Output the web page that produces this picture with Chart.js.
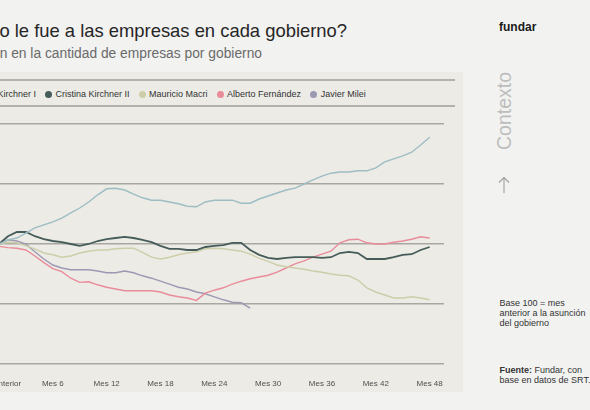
<!DOCTYPE html>
<html lang="es">
<head>
<meta charset="utf-8">
<title>¿Cómo le fue a las empresas en cada gobierno?</title>
<script src="https://cdn.jsdelivr.net/npm/chart.js@4.4.1/dist/chart.umd.min.js"></script>
<style>
  html, body { margin: 0; padding: 0; }
  body {
    width: 590px; height: 410px; overflow: hidden; position: relative;
    background: #f2f2f1; color: #222;
    font-family: "Liberation Sans", Arial, sans-serif;
  }
  .abs { position: absolute; white-space: nowrap; }
  #titulo { right: 243px; top: 20px; font-size: 18.4px; line-height: 22px; color: #262626; }
  #subtitulo { right: 328px; top: 46px; font-size: 13.8px; line-height: 16px; color: #6a6a6a; }
  #panel { left: -20px; top: 72px; width: 483px; height: 320px; background: #ecebe6; }
  #leyendaCaja { left: -20px; top: 79px; width: 475px; height: 24px;
    border-top: 2px solid #b3b1ab; border-bottom: 2px solid #b3b1ab; }
  #leyenda { top: 89px; display: flex; align-items: center; font-size: 9px; line-height: 10px; color: #333; }
  #leyenda .item { display: flex; align-items: center; margin-right: 9px; }
  #leyenda .punto { width: 7px; height: 7px; border-radius: 50%; margin-right: 3.5px; }
  #lienzo { left: -60px; top: 110px; width: 523px; height: 282px; }
  #marca { left: 499px; top: 20px; font-size: 12px; line-height: 14px; font-weight: bold; color: #1a1a1a; }
  #contexto { left: 503.5px; top: 111px; font-size: 19.5px; line-height: 20px; color: #bdbdbd;
    transform: translate(-50%, -50%) rotate(-90deg); }
  #flecha { left: 497px; top: 176px; }
  .nota { left: 499.5px; font-size: 9px; line-height: 10px; color: #333; }
  #base { top: 298px; }
  #fuente { top: 365px; }
</style>
</head>
<body>
<div class="abs" id="titulo">¿Cómo le fue a las empresas en cada gobierno?</div>
<div class="abs" id="subtitulo">Variación en la cantidad de empresas por gobierno</div>
<div class="abs" id="panel"></div>
<div class="abs" id="leyendaCaja"></div>
<div class="abs" id="leyenda"></div>
<div class="abs" id="lienzo"><canvas id="grafico" width="523" height="282"></canvas></div>

<div class="abs" id="marca">fundar</div>
<div class="abs" id="contexto">Contexto</div>
<svg class="abs" id="flecha" width="14" height="18" viewBox="0 0 14 18">
  <path d="M7 1.5 V17 M2 6.5 L7 1.5 L12 6.5" fill="none" stroke="#9e9e9e" stroke-width="1.1"/>
</svg>
<div class="abs nota" id="base">Base 100 = mes<br>anterior a la asunción<br>del gobierno</div>
<div class="abs nota" id="fuente"><b>Fuente:</b> Fundar, con<br>base en datos de SRT.</div>

<script>
// meses desde el mes anterior a la asuncion
const meses = Array.from({ length: 49 }, (_, i) => i);
const etiquetasX = ['Mes anterior', 'Mes 6', 'Mes 12', 'Mes 18', 'Mes 24', 'Mes 30', 'Mes 36', 'Mes 42', 'Mes 48'];

const gobiernos = ['Néstor Kirchner I', 'Cristina Kirchner II', 'Mauricio Macri', 'Alberto Fernández', 'Javier Milei'];
const colores = ['#9dbdc4', '#465c5a', '#cdcea9', '#e98c9a', '#9c99b3'];

const nestorK = [100, 100.7, 101.0, 101.8, 102.7, 103.2, 103.7, 104.3, 105.2, 106.0, 107.0, 108.2, 109.2,
  109.3, 109.0, 108.3, 107.7, 107.3, 107.3, 107.0, 106.7, 106.3, 106.2, 107.0, 107.3,
  107.3, 107.3, 106.8, 106.8, 107.5, 108.0, 108.5, 109.0, 109.3, 110.0, 110.7, 111.3,
  111.8, 112.0, 112.0, 112.2, 112.2, 112.7, 113.7, 114.2, 114.7, 115.3, 116.5, 117.8];
const cristinaK = [100, 101.3, 102.0, 102.0, 101.3, 100.8, 100.5, 100.3, 100.0, 99.7, 100.0, 100.5, 100.8,
  101.0, 101.2, 101.0, 100.7, 100.3, 99.7, 99.2, 99.2, 99.0, 99.0, 99.5, 99.7,
  99.8, 100.2, 100.2, 99.0, 98.2, 97.7, 97.5, 97.7, 97.8, 97.8, 97.8, 97.7,
  97.8, 98.5, 98.7, 98.5, 97.5, 97.5, 97.5, 97.8, 98.2, 98.3, 99.0, 99.5];
const macri = [100, 100.3, 100.2, 99.7, 99.2, 98.5, 98.2, 97.8, 98.0, 98.5, 98.8, 99.0, 99.0,
  99.2, 99.3, 99.3, 98.6, 97.8, 97.5, 97.8, 98.2, 98.5, 98.7, 99.2, 99.3,
  99.2, 99.0, 98.8, 98.3, 97.6, 97.1, 96.5, 96.2, 96.0, 95.8, 95.5, 95.3,
  95.0, 94.8, 94.7, 94.0, 92.7, 92.0, 91.5, 91.0, 91.0, 91.2, 91.0, 90.7];
const alberto = [99.6, 99.4, 99.3, 99.0, 98.0, 96.9, 95.9, 95.4, 94.3, 93.6, 93.7, 93.2, 92.8,
  92.5, 92.2, 92.2, 92.2, 92.2, 92.0, 91.5, 91.2, 91.0, 90.6, 91.8, 92.3,
  92.7, 93.3, 93.8, 94.2, 94.5, 94.8, 95.3, 96.0, 96.7, 97.2, 97.8, 98.3,
  98.8, 100.2, 100.7, 100.8, 100.2, 100.0, 100.0, 100.3, 100.5, 100.8, 101.2, 101.0];
const milei = [100, 100.7, 100.5, 100.0, 98.7, 97.5, 96.5, 96.0, 95.7, 95.7, 95.7, 95.5, 95.2,
  95.2, 95.5, 95.2, 94.7, 94.3, 93.8, 93.3, 92.8, 92.5, 92.0, 91.7, 91.2,
  90.7, 90.3, 90.2, 89.3];

const series = [nestorK, cristinaK, macri, alberto, milei];
const fuente = '"Liberation Sans", Arial, sans-serif';

// leyenda en html, como en el original
const leyenda = document.getElementById('leyenda');
gobiernos.forEach((g, i) => {
  const item = document.createElement('div');
  item.className = 'item';
  item.innerHTML = '<span class="punto" style="background:' + colores[i] + '"></span><span class="txt">' + g + '</span>';
  leyenda.appendChild(item);
});
const primerTxt = leyenda.querySelector('.txt');
leyenda.style.left = (37 - (primerTxt.offsetLeft + primerTxt.offsetWidth)) + 'px';

new Chart(document.getElementById('grafico'), {
  type: 'line',
  data: {
    labels: meses,
    datasets: series.map((s, i) => ({
      label: gobiernos[i],
      data: s,
      borderColor: colores[i],
      borderWidth: i === 1 ? 1.8 : 1.4,
      pointRadius: 0,
      tension: 0,
      fill: false
    }))
  },
  options: {
    responsive: false,
    animation: false,
    layout: { padding: { left: 59, right: 19, top: 14, bottom: 0 } },
    plugins: {
      legend: { display: false },
      tooltip: { enabled: false }
    },
    scales: {
      x: {
        type: 'linear',
        min: 0,
        max: 49.6,
        grid: { display: false },
        border: { display: false },
        afterFit: (scale) => { scale.height = 28; },
        ticks: {
          stepSize: 6,
          includeBounds: false,
          autoSkip: false,
          maxRotation: 0,
          padding: 7,
          color: '#4f4f4f',
          font: { size: 8, family: fuente },
          callback: (v) => etiquetasX[v / 6]
        }
      },
      y: {
        min: 80,
        max: 120,
        ticks: { display: false, stepSize: 10 },
        grid: { color: '#a9a7a1', lineWidth: 1.5, drawTicks: false },
        border: { display: false }
      }
    }
  }
});
</script>
</body>
</html>
